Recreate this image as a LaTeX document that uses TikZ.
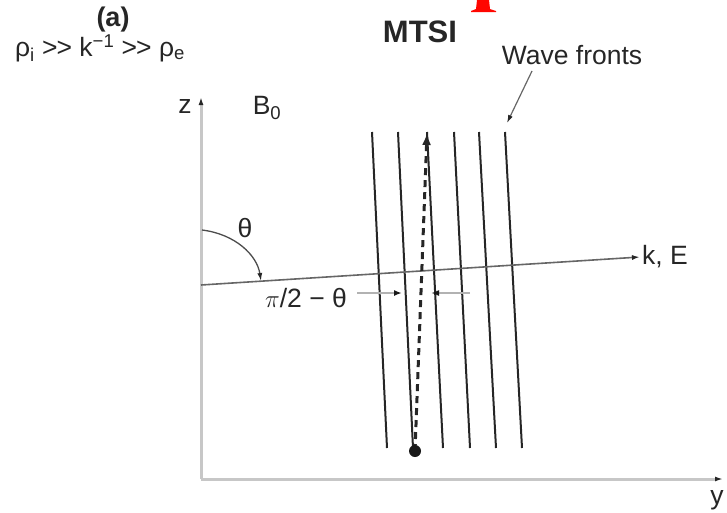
\documentclass[tikz,border=0pt]{standalone}
\usepackage{fontspec}
\usepackage{amsmath}
\setmainfont{Liberation Sans}
\usetikzlibrary{arrows.meta}

\begin{document}
\begin{tikzpicture}[x=1pt, y=-1pt, font=\fontsize{26.5}{31}\selectfont, text=black!85,
    axisline/.style={line width=3pt, black!22, -{Latex[length=8pt, width=5pt, black!85]}},
    front/.style={line width=2pt, black!85},
    thinarrow/.style={line width=1.2pt, black!60, -{Latex[length=8pt, width=5pt, black!85]}},
    gapmark/.style={line width=2pt, black!30, -{Latex[length=8pt, width=6pt, black!90]}}]
        \useasboundingbox (0,0) rectangle (727,512);

        % Achsen
        \coordinate (O) at (201,479);
        \coordinate (ztip) at (201,97);
        \coordinate (ytip) at (723,479);
        \draw[axisline] (O) -- (ztip);
        \draw[axisline] (O) -- (ytip);
        \node (zlab) at (185,106) {z};
        \node (ylab) at (717,500) {y};
        \node (blab) at (267,108) {B$_\text{0}$};

        % Titel und Bedingung
        \node[font=\fontsize{27}{31}\selectfont\bfseries] (tag) at (113,20) {(a)};
        \node[font=\fontsize{31}{35}\selectfont\bfseries] (title) at (420,32) {MTSI};
        \node (cond) at (100,48) {ρ$_\text{i}$ \textgreater\kern-1pt\textgreater{} k$^\text{−1}$ \textgreater\kern-1pt\textgreater{} ρ$_\text{e}$};

        % Rest oben (rot)
        \fill[red!95!orange] (477,0) -- (489,0) -- (490,9) -- (496,11) -- (496,12)
            -- (471,12) -- (471,11) -- (476,9) -- cycle;

        % Wellenfronten
        \foreach \t/\b [count=\i] in {372/387, 398/413, 427/443, 454/470, 479/496, 505/522} {
            \coordinate (wt\i) at (\t,132);
            \coordinate (wb\i) at (\b,448);
            \draw[front] (wt\i) -- (wb\i);
        }
        \node (wlab) at (572,55) {Wave fronts};
        \coordinate (wfrom) at (532,71);
        \coordinate (wto) at (507,123);
        \draw[thinarrow] (wfrom) -- (wto);

        % Wellenvektor
        \coordinate (kstart) at (201,285);
        \coordinate (kend) at (640,257);
        \node[anchor=west, inner sep=2pt] (klab) at (kend) {k, E};
        \draw[thinarrow, line width=1.6pt] (kstart) -- (kend);

        % Winkel theta
        \coordinate (astart) at (202,230);
        \coordinate (aend) at (261,281);
        \draw[thinarrow, line width=1.3pt, black!70] (astart) .. controls (235,234) and (257,255) .. (aend);
        \node (thlab) at (245,228) {θ};

        % pi/2 - theta
        \node (pilab) at (306,298) {$\pi$/2 − θ};
        \coordinate (g1a) at (357,293);
        \coordinate (g1b) at (402,293);
        \coordinate (g2a) at (470,293);
        \coordinate (g2b) at (431,293);
        \draw[gapmark] (g1a) -- (g1b);
        \draw[gapmark] (g2a) -- (g2b);

        % Teilchenbahn
        \coordinate (dot) at (415,451);
        \coordinate (dtip) at (427,133);
        \draw[line width=3pt, black!85, dash pattern=on 7pt off 5pt,
            -{Latex[length=12pt, width=9pt]}] (dot) -- (dtip);
        \fill[black!90] (dot) circle (6pt);

    \end{tikzpicture}
\end{document}
